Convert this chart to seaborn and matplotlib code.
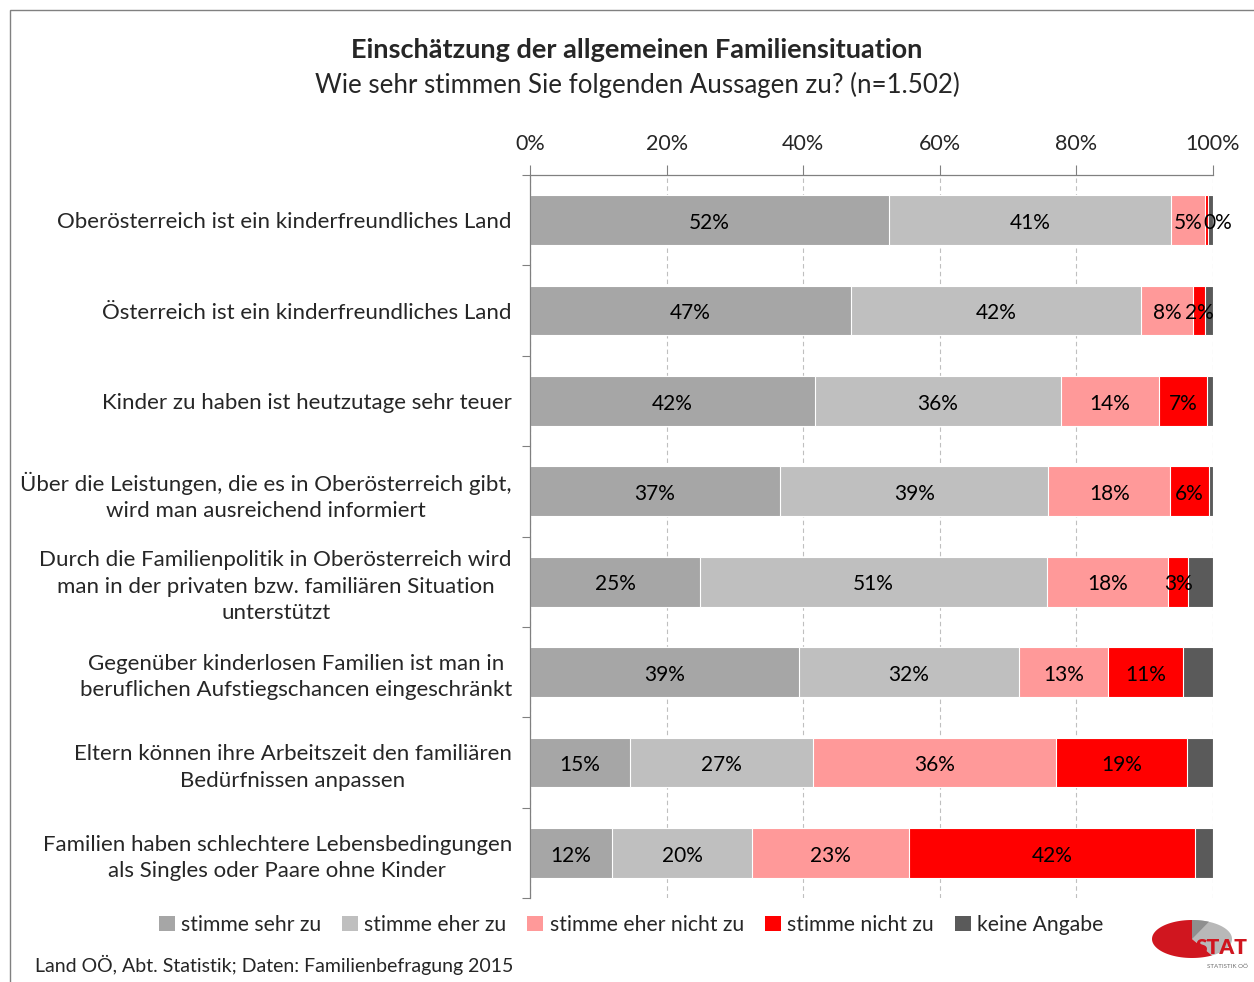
import numpy as np
import pandas as pd
import matplotlib
matplotlib.use("Agg")
import matplotlib.pyplot as plt
import seaborn as sns
from matplotlib.patches import Rectangle, Polygon, Patch
from matplotlib.ticker import FixedLocator, PercentFormatter

sns.set_theme(style="white")
plt.rcParams['font.family'] = ['Lato', 'DejaVu Sans']

categories = [
    "Oberösterreich ist ein kinderfreundliches Land",
    "Österreich ist ein kinderfreundliches Land",
    "Kinder zu haben ist heutzutage sehr teuer",
    "Über die Leistungen, die es in Oberösterreich gibt,\nwird man ausreichend informiert",
    "Durch die Familienpolitik in Oberösterreich wird\nman in der privaten bzw. familiären Situation\nunterstützt",
    "Gegenüber kinderlosen Familien ist man in\nberuflichen Aufstiegschancen eingeschränkt",
    "Eltern können ihre Arbeitszeit den familiären\nBedürfnissen anpassen",
    "Familien haben schlechtere Lebensbedingungen\nals Singles oder Paare ohne Kinder",
]
series_names = ["stimme sehr zu", "stimme eher zu", "stimme eher nicht zu",
                "stimme nicht zu", "keine Angabe"]
sehr_zu       = [52.5, 47.0, 41.7, 36.6, 24.9, 39.4, 14.6, 12.0]
eher_zu       = [41.4, 42.5, 36.0, 39.3, 50.8, 32.2, 26.8, 20.5]
eher_nicht_zu = [5.0, 7.5, 14.4, 17.8, 17.7, 13.0, 35.6, 23.0]
nicht_zu      = [0.4, 1.9, 7.0, 5.7, 3.0, 11.0, 19.2, 41.8]
keine_angabe  = [0.7, 1.1, 0.9, 0.6, 3.6, 4.4, 3.8, 2.7]
colors = ["#A6A6A6", "#BFBFBF", "#FF9999", "#FF0000", "#5A5A5A"]
ticks = [0, 20, 40, 60, 80, 100]

series = [sehr_zu, eher_zu, eher_nicht_zu, nicht_zu, keine_angabe]
df = pd.DataFrame({n: v for n, v in zip(series_names, series)})
df["cat"] = categories
cum = df[series_names].cumsum(axis=1)
cum["cat"] = categories

fig = plt.figure(figsize=(12.54, 9.82), dpi=100)
ax = fig.add_axes([530/1254, 1-898/982, 683/1254, (898-175)/982])

# stacked via overlay of cumulative sums (largest first)
for name, col in reversed(list(zip(series_names, colors))):
    sns.barplot(data=cum, x=name, y="cat", orient="h", color=col,
                width=0.55, edgecolor="white", linewidth=0.8,
                saturation=1, ax=ax)

# labels (first four series)
for i in range(len(categories)):
    left = 0
    for j, name in enumerate(series_names):
        v = df.loc[i, name]
        if j < 4:
            dx = 8 if v < 1 else 0
            ax.annotate(f"{round(v):.0f}%", (left + v/2, i + 0.03),
                        xytext=(dx, 0), textcoords="offset points",
                        ha="center", va="center", fontsize=15, color="black")
        left += v

ax.set_xlim(0, 100)
ax.set_ylim(len(categories)-0.5, -0.5)
ax.xaxis.set_major_locator(FixedLocator(ticks))
ax.xaxis.set_major_formatter(PercentFormatter(decimals=0))
ax.xaxis.tick_top()
ax.tick_params(axis="x", which="major", top=True, bottom=False, length=7,
               color="#808080", width=0.8, labelsize=15.5, pad=8)
ax.set_xlabel("")
ax.set_ylabel("")
ax.set_yticks(range(len(categories)))
ax.set_yticklabels(categories, fontsize=16, multialignment="center", linespacing=1.4)
ax.tick_params(axis="y", which="major", length=0, pad=13)
ax.set_yticks(np.arange(-0.5, len(categories), 1), minor=True)
ax.tick_params(axis="y", which="minor", left=True, length=6, color="#808080", width=0.8)
ax.grid(axis="x", linestyle=(0, (4, 3)), color="#BFBFBF", linewidth=0.8)
ax.grid(axis="y", visible=False)
ax.set_axisbelow(True)
for s in ["right", "bottom"]:
    ax.spines[s].set_visible(False)
for s in ["left", "top"]:
    ax.spines[s].set_color("#808080")
    ax.spines[s].set_linewidth(0.9)

# titles
fig.text(637/1254, 1-50/982, "Einschätzung der allgemeinen Familiensituation",
         ha="center", va="center", fontsize=19.5, fontweight="bold")
fig.text(637/1254, 1-85/982, "Wie sehr stimmen Sie folgenden Aussagen zu? (n=1.502)",
         ha="center", va="center", fontsize=18.6)

# legend
handles = [Patch(facecolor=c, edgecolor="none") for c in colors]
fig.legend(handles, series_names, loc="center", bbox_to_anchor=(631/1254, 1-925/982),
           ncol=5, frameon=False, fontsize=15.2, handlelength=0.75, handleheight=0.75,
           handletextpad=0.3, columnspacing=1.0)

# source
fig.text(35/1254, 1-965/982, "Land OÖ, Abt. Statistik; Daten: Familienbefragung 2015",
         ha="left", va="center", fontsize=14)

# frame
fig.patches.append(Rectangle((10/1254, -0.05), 1.2, 1-10/982+0.05, transform=fig.transFigure,
                             fill=False, edgecolor="#808080", linewidth=1))

# logo approximation (pixel-like coordinates)
lax = fig.add_axes([1148/1254, 1-975/982, 104/1254, 60/982])
lax.set_xlim(0, 104); lax.set_ylim(0, 60); lax.axis("off")
def sector(cx, cy, rx, ry, a0, a1, n=60):
    t = np.radians(np.linspace(a0, a1, n))
    pts = np.column_stack([cx + rx*np.cos(t), cy + ry*np.sin(t)])
    return np.vstack([[cx, cy], pts])
lax.add_patch(Polygon(sector(44, 36, 40, 19, -60, 90), closed=True,
                      facecolor="#B8B8B8", edgecolor="none"))
lax.add_patch(Polygon(sector(44, 36, 40, 19, 65, 90), closed=True,
                      facecolor="#8E8E8E", edgecolor="none"))
lax.add_patch(Polygon(sector(44, 36, 40, 19, 90, 300), closed=True,
                      facecolor="#D0161F", edgecolor="none"))
lax.text(100, 27, "STAT", ha="right", va="center", fontsize=15, fontweight="heavy",
         color="#D0161F")
lax.text(100, 9, "STATISTIK OÖ", ha="right", va="center", fontsize=4.5, color="#707070")

fig.savefig("out.png", dpi=100)
